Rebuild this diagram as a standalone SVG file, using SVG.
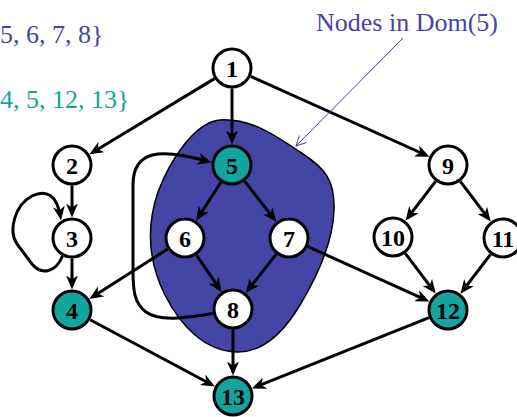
<svg xmlns="http://www.w3.org/2000/svg" width="517" height="417" viewBox="0 0 517 417">
<defs>
<marker id="arr" viewBox="0 0 14 12" refX="10" refY="6" markerWidth="14" markerHeight="12" markerUnits="userSpaceOnUse" orient="auto">
<path d="M0,0 L14,6 L0,12 L4,6 z" fill="#000"/>
</marker>
<marker id="thin" viewBox="0 0 12 12" refX="11" refY="6" markerWidth="12" markerHeight="12" markerUnits="userSpaceOnUse" orient="auto">
<path d="M1,1 L11,6 L1,11" fill="none" stroke="#4545A6" stroke-width="1"/>
</marker>
<style>
.e{fill:none;stroke:#000;stroke-width:3;marker-end:url(#arr)}
.n circle{stroke:#000;stroke-width:3;fill:#fff}
.n.t circle{fill:#12A5A0}
.n text{font-weight:bold;font-size:24px;text-anchor:middle;fill:#000}
.lbl{font-size:26px}
</style>
</defs>
<rect width="517" height="417" fill="#fff"/>
<g font-family="'Liberation Serif', 'Times New Roman', 'DejaVu Serif', serif">
<text class="lbl" x="0" y="43" fill="#4545A6">5, 6, 7, 8}</text>
<text class="lbl" x="0" y="108" fill="#12A5A0">4, 5, 12, 13}</text>
<text class="lbl" x="316" y="31" fill="#4545A6">Nodes in Dom(5)</text>
</g>
<path id="dom5" d="M220,120 C250,118 275,135 300,152 C325,168 335,180 334,210 C333,245 315,280 300,305 C285,330 265,352 238,352 C205,352 180,325 165,295 C150,265 145,230 158,192 C170,160 195,122 220,120 Z" fill="#4545A6" stroke="#000" stroke-width="1.5"/>
<g id="connectors">
<path class="e" d="M214.5,78.6 L92.9,152.3"/>
<path class="e" d="M232,88.5 L232,140.5"/>
<path class="e" d="M250.7,76.4 L425.7,155"/>
<path class="e" d="M72,185.5 L72,213.5"/>
<path class="e" d="M62.5,256 C56,272 42,276 32,264 L17,244 C8,230 15,205 32,196 C46,189 57,195 60.4,216.4"/>
<path class="e" d="M72,258.5 L72,285.5"/>
<path class="e" d="M220.9,182.2 L198.3,217.4"/>
<path class="e" d="M244.6,181.2 L273.9,218.7"/>
<path class="e" d="M196.5,255 L219.3,288.7"/>
<path class="e" d="M276.3,254.1 L248.2,289.8"/>
<path class="e" d="M167.7,249 L92.7,296.8"/>
<path class="e" d="M90.1,319.7 L211.4,384.5"/>
<path class="e" d="M233,329.5 L233,371.5"/>
<path class="e" d="M307.7,246.5 L425.7,299.9"/>
<path class="e" d="M429,317.6 L255.7,386.9"/>
<path class="e" d="M435.6,181.3 L407.9,217.5"/>
<path class="e" d="M460.3,181.4 L488.3,218.4"/>
<path class="e" d="M405.3,253.4 L433.3,290.4"/>
<path class="e" d="M490.6,254.3 L462.9,290.5"/>
<path class="e" d="M212.6,313.5 C185,318 160,322 146,312 C134,303 133,290 133,270 L133,185 C133,150 160,148 207.8,161.4"/>
<path d="M403,38 L296,146" fill="none" stroke="#4545A6" stroke-width="1" marker-end="url(#thin)"/>
</g>
<g font-family="'Liberation Serif', 'Times New Roman', 'DejaVu Serif', serif">
<g id="n1" class="n"><circle cx="232" cy="68" r="19"/><text x="232" y="76.5">1</text></g>
<g id="n2" class="n"><circle cx="72" cy="165" r="19"/><text x="72" y="173.5">2</text></g>
<g id="n3" class="n"><circle cx="72" cy="238" r="19"/><text x="72" y="246.5">3</text></g>
<g id="n4" class="n t"><circle cx="72" cy="310" r="19"/><text x="72" y="318.5">4</text></g>
<g id="n5" class="n t"><circle cx="232" cy="165" r="19"/><text x="232" y="173.5">5</text></g>
<g id="n6" class="n"><circle cx="185" cy="238" r="19"/><text x="185" y="246.5">6</text></g>
<g id="n7" class="n"><circle cx="289" cy="238" r="19"/><text x="289" y="246.5">7</text></g>
<g id="n8" class="n"><circle cx="233" cy="309" r="19"/><text x="233" y="317.5">8</text></g>
<g id="n9" class="n"><circle cx="448" cy="165" r="19"/><text x="448" y="173.5">9</text></g>
<g id="n10" class="n"><circle cx="393" cy="237" r="19"/><text x="393" y="245.5">10</text></g>
<g id="n11" class="n"><circle cx="503" cy="238" r="19"/><text x="503" y="246.5">11</text></g>
<g id="n12" class="n t"><circle cx="448" cy="310" r="19"/><text x="448" y="318.5">12</text></g>
<g id="n13" class="n t"><circle cx="233" cy="396" r="19"/><text x="233" y="404.5">13</text></g>
</g>
</svg>
